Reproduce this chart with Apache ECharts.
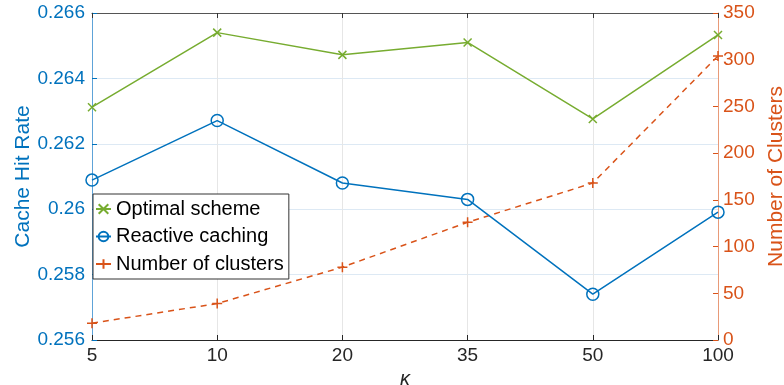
<!DOCTYPE html>
<html><head><meta charset="utf-8">
<script src="https://cdn.jsdelivr.net/npm/echarts@6/dist/echarts.min.js"></script>
<style>html,body{margin:0;padding:0;background:#fff}#c{width:784px;height:385px}</style>
</head><body><div id="c"></div>
<script>
const categories = ['5','10','20','35','50','100'];
const optimalScheme = [0.26312, 0.26540, 0.26472, 0.26510, 0.26276, 0.26533];
const reactiveCaching = [0.26089, 0.26271, 0.26080, 0.26030, 0.25740, 0.25991];
const numClusters = [18, 39, 78, 126, 168, 304];
const leftTicks = {min: 0.256, max: 0.266, interval: 0.002};
const rightTicks = {min: 0, max: 350, interval: 50};

const FONT = '"Liberation Sans", Arial, Helvetica, sans-serif';
const BLUE = '#0072BD', GREEN = '#77AC30', ORANGE = '#D95319';
const chart = echarts.init(document.getElementById('c'), null, {renderer: 'canvas'});
chart.setOption({
  animation: false,
  textStyle: {fontFamily: FONT},
  grid: {left: 92, right: 66, top: 13, bottom: 45, outerBoundsMode: 'none', containLabel: false},
  legend: {
    orient: 'vertical', left: 93, top: 194,
    backgroundColor: '#fff', borderColor: '#333', borderWidth: 1,
    padding: [5, 5, 5, 2], itemGap: 7.5, itemWidth: 15, itemHeight: 12,
    textStyle: {fontSize: 20, color: '#000', fontFamily: FONT},
    data: ['Optimal scheme', 'Reactive caching', 'Number of clusters']
  },
  xAxis: [{
    type: 'category', data: categories, boundaryGap: false,
    name: 'κ', nameLocation: 'middle', nameGap: 27,
    nameTextStyle: {fontSize: 20, fontStyle: 'italic', color: '#262626', fontFamily: FONT},
    axisLine: {lineStyle: {color: '#262626', width: 1}},
    axisTick: {inside: true, length: 5, lineStyle: {color: '#262626'}},
    axisLabel: {fontSize: 19, color: '#262626', margin: 6},
    splitLine: {show: true, lineStyle: {color: '#e6e6e6', width: 1}}
  }, {
    type: 'category', data: categories, boundaryGap: false, position: 'top',
    axisLine: {lineStyle: {color: '#555', width: 1}},
    axisTick: {inside: true, length: 5, lineStyle: {color: '#333'}},
    axisLabel: {show: false}, splitLine: {show: false}
  }],
  yAxis: [{
    type: 'value', position: 'left', min: leftTicks.min, max: leftTicks.max, interval: leftTicks.interval,
    name: 'Cache Hit Rate', nameLocation: 'middle', nameGap: 58, nameRotate: 90, nameMoveOverlap: false,
    nameTextStyle: {fontSize: 21, color: BLUE, fontFamily: FONT},
    axisLine: {show: true, lineStyle: {color: '#5ea3d8', width: 1}},
    axisTick: {show: true, inside: true, length: 5, lineStyle: {color: BLUE}},
    axisLabel: {fontSize: 19, color: BLUE, margin: 7, formatter: v => String(+v.toFixed(3))},
    splitLine: {show: true, lineStyle: {color: '#dde9f4', width: 1}}
  }, {
    type: 'value', position: 'right', min: rightTicks.min, max: rightTicks.max, interval: rightTicks.interval,
    name: 'Number of Clusters', nameLocation: 'middle', nameGap: 45, nameRotate: 90,
    nameTextStyle: {fontSize: 21, color: ORANGE, fontFamily: FONT},
    axisLine: {show: true, lineStyle: {color: '#e89a78', width: 1}},
    axisTick: {show: true, inside: true, length: 5, lineStyle: {color: ORANGE}},
    axisLabel: {fontSize: 19, color: ORANGE, margin: 5},
    splitLine: {show: false}
  }],
  series: [{
    name: 'Optimal scheme', type: 'line', yAxisIndex: 0, data: optimalScheme,
    symbol: 'path://M0,0L10,10M10,0L0,10', symbolSize: 8,
    lineStyle: {color: GREEN, width: 1.5},
    itemStyle: {color: GREEN, borderColor: GREEN, borderWidth: 1.5}, z: 3
  }, {
    name: 'Reactive caching', type: 'line', yAxisIndex: 0, data: reactiveCaching,
    symbol: 'circle', symbolSize: 12,
    lineStyle: {color: BLUE, width: 1.5},
    itemStyle: {color: 'rgba(255,255,255,0)', borderColor: BLUE, borderWidth: 1.5}, z: 3
  }, {
    name: 'Number of clusters', type: 'line', yAxisIndex: 1, data: numClusters,
    symbol: 'path://M5,0L5,10M0,5L10,5', symbolSize: 10,
    lineStyle: {color: ORANGE, width: 1.5, type: [6, 5]},
    itemStyle: {color: ORANGE, borderColor: ORANGE, borderWidth: 1.5}, z: 2
  }]
});
</script></body></html>
